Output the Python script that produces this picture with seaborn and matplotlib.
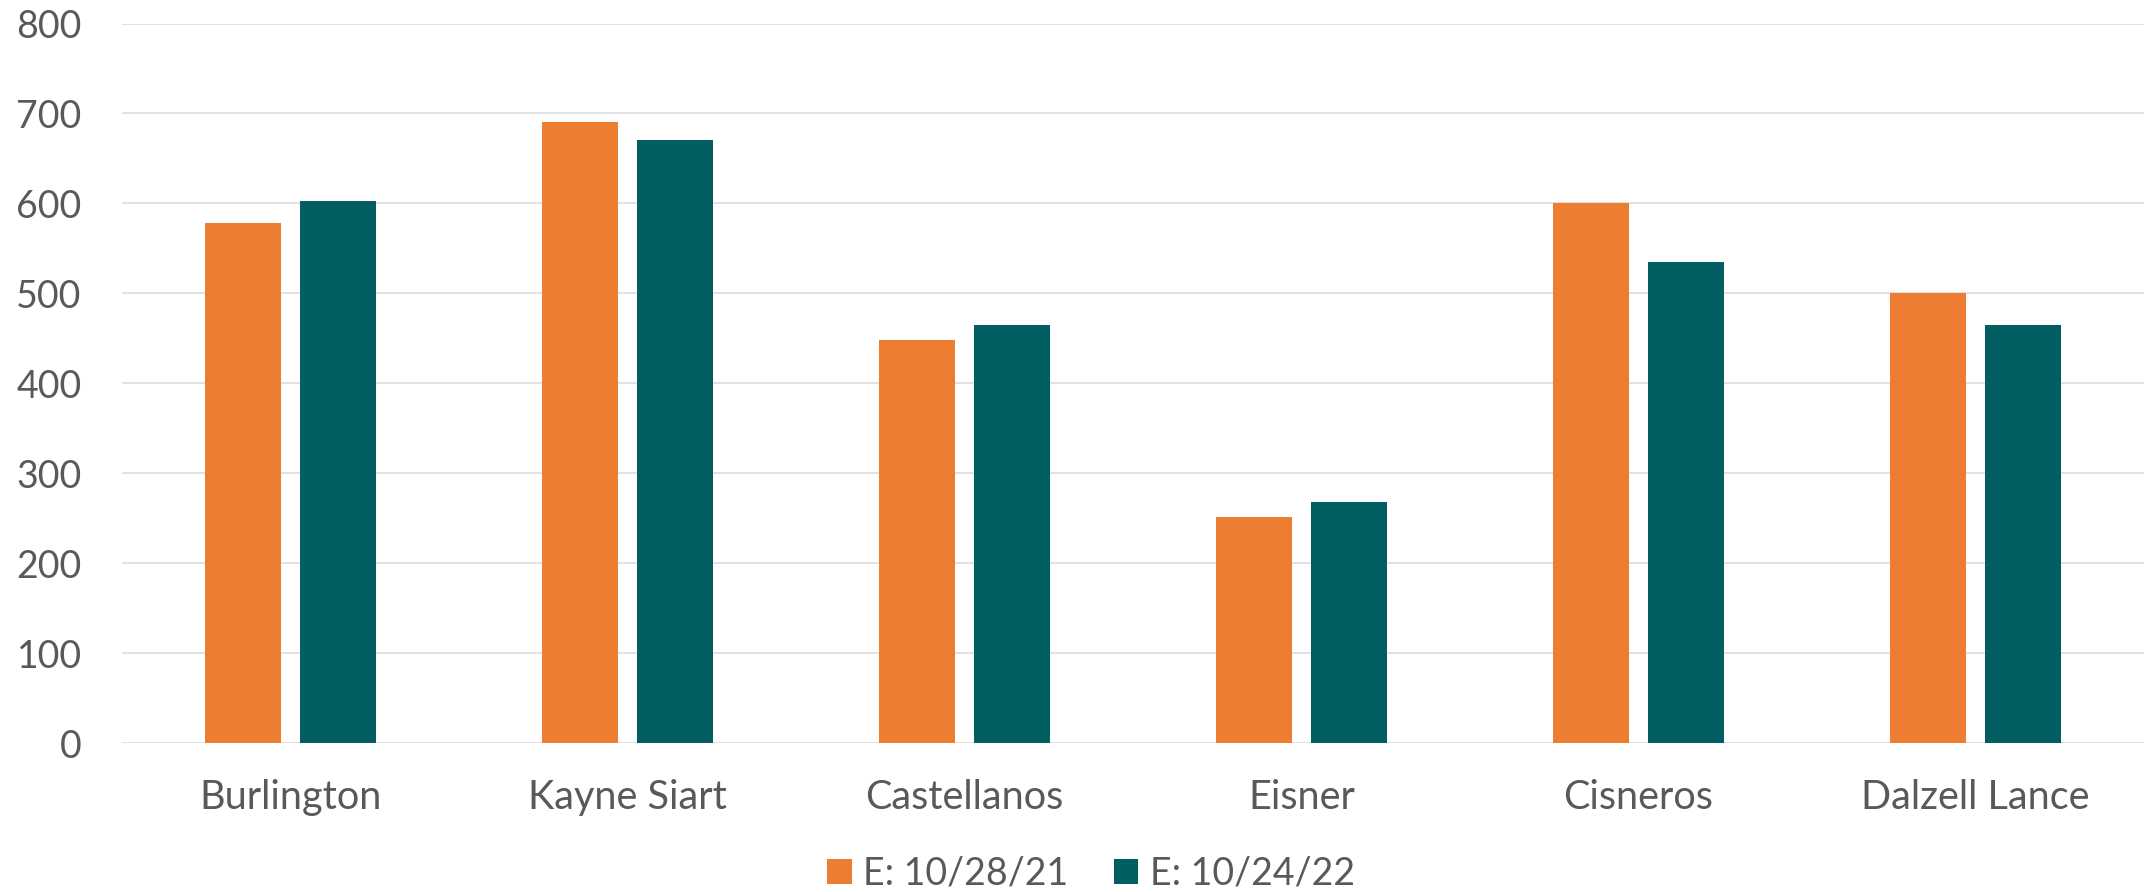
import matplotlib
matplotlib.use("Agg")
import matplotlib.pyplot as plt
import seaborn as sns
import pandas as pd

# Data
sites = ["Burlington", "Kayne Siart", "Castellanos", "Eisner", "Cisneros", "Dalzell Lance"]
series_names = ["E: 10/28/21", "E: 10/24/22"]
enroll_2021 = [578, 690, 448, 252, 601, 501]
enroll_2022 = [603, 671, 465, 268, 535, 465]
y_ticks = [0, 100, 200, 300, 400, 500, 600, 700, 800]

df = pd.DataFrame({
    "site": sites * 2,
    "period": [series_names[0]] * len(sites) + [series_names[1]] * len(sites),
    "value": enroll_2021 + enroll_2022,
})

sns.set_theme(style="white")
plt.rcParams["font.family"] = ["Lato", "DejaVu Sans"]

TEXT = "#595959"
GRID = "#d9d9d9"

fig = plt.figure(figsize=(21.44, 8.92), dpi=100)
ax = fig.add_axes([122 / 2144, 1 - 743.3 / 892, 1 - 122 / 2144, (743.3 - 23.5) / 892])

sns.barplot(
    data=df, x="site", y="value", hue="period",
    palette=["#ED7D31", "#035E63"], width=0.567, gap=0.205,
    saturation=1, errorbar=None, ax=ax, linewidth=0,
)

ax.set_ylim(0, 800)
ax.set_xlim(-0.5, len(sites) - 0.5)
ax.set_yticks(y_ticks)
ax.set_yticklabels([str(t) for t in y_ticks])
ax.set_xlabel("")
ax.set_ylabel("")
ax.yaxis.grid(True, color=GRID, linewidth=1.1)
ax.set_axisbelow(True)
for s in ax.spines.values():
    s.set_visible(False)
ax.tick_params(axis="y", length=0, pad=29, labelsize=27, labelcolor=TEXT)
ax.tick_params(axis="x", length=0, pad=26, labelsize=28.5, labelcolor=TEXT)

sns.move_legend(
    ax, "center", bbox_to_anchor=(1091 / 2144, 1 - 874 / 892),
    bbox_transform=fig.transFigure, ncol=2, frameon=False, title=None,
    fontsize=27, handlelength=0.66, handleheight=0.66, handletextpad=0.3,
    columnspacing=1.2,
)
for t in ax.get_legend().get_texts():
    t.set_color(TEXT)

fig.savefig("out.png", dpi=100, facecolor="white")
